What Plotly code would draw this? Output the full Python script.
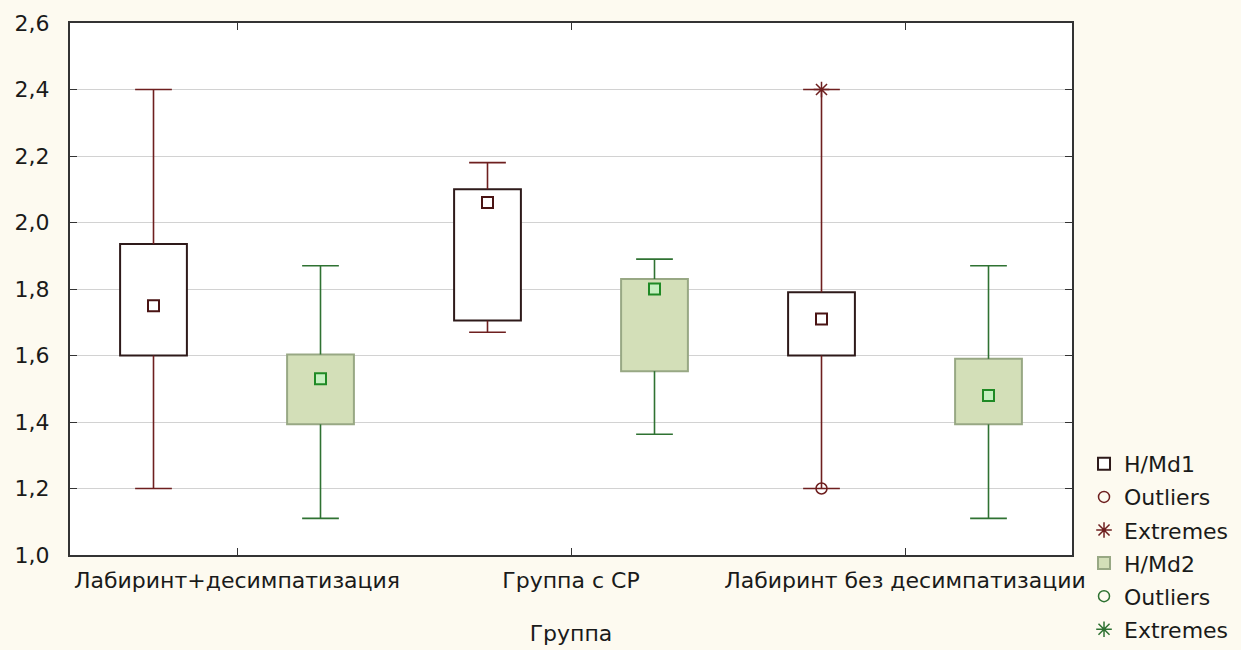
import plotly.graph_objects as go

# Groups and the two measured indices
groups = ["Лабиринт+десимпатизация", "Группа с СР", "Лабиринт без десимпатизации"]
series_names = ["H/Md1", "H/Md2"]

# Summary statistics per group (median, quartiles, non-outlier range)
md1_median = [1.75, 2.06, 1.71]
md1_q1 = [1.60, 1.705, 1.60]
md1_q3 = [1.935, 2.10, 1.79]
md1_low = [1.20, 1.67, 1.20]
md1_high = [2.40, 2.18, 2.40]

md2_median = [1.53, 1.80, 1.48]
md2_q1 = [1.393, 1.553, 1.393]
md2_q3 = [1.603, 1.83, 1.59]
md2_low = [1.11, 1.363, 1.11]
md2_high = [1.87, 1.89, 1.87]

# Individual outlier / extreme points of H/Md1 (group index, value)
md1_outlier_group = [2]
md1_outlier_value = [1.20]
md1_extreme_group = [2]
md1_extreme_value = [2.40]

FONT = "DejaVu Sans"
BG = "#fdfaf0"

styles = [
    dict(fill="#ffffff", border="#2e1a1a", whisker="#6e1f1f",
         marker_line="#4a1414", marker_fill="#ffffff", offset=-0.25),
    dict(fill="#d3dfb8", border="#98a884", whisker="#2f7232",
         marker_line="#1f8a25", marker_fill="#c6f0c0", offset=0.25),
]
stats = [
    (md1_median, md1_q1, md1_q3, md1_low, md1_high),
    (md2_median, md2_q1, md2_q3, md2_low, md2_high),
]

fig = go.Figure()
box_w = 0.2
cap_half = 0.055

for name, st, (med, q1, q3, lo, hi) in zip(series_names, styles, stats):
    xs = [i + st["offset"] for i in range(len(groups))]
    # whiskers with caps
    wx, wy = [], []
    for x, a, b, l, h in zip(xs, q1, q3, lo, hi):
        wx += [x, x, None, x, x, None, x - cap_half, x + cap_half, None,
               x - cap_half, x + cap_half, None]
        wy += [b, h, None, a, l, None, h, h, None, l, l, None]
    fig.add_trace(go.Scatter(
        x=wx, y=wy, mode="lines", showlegend=False, hoverinfo="skip",
        line=dict(color=st["whisker"], width=1.6),
    ))
    # interquartile boxes
    fig.add_trace(go.Bar(
        x=xs, base=q1, y=[b - a for a, b in zip(q1, q3)], width=box_w,
        name=name, legendgroup=name + "box",
        marker=dict(color=st["fill"], line=dict(color=st["border"], width=2)),
    ))
    # median markers
    fig.add_trace(go.Scatter(
        x=xs, y=med, mode="markers", showlegend=False,
        marker=dict(symbol="square", size=11, color=st["marker_fill"],
                    line=dict(color=st["marker_line"], width=2)),
    ))
    if name == "H/Md1":
        ox = [g + st["offset"] for g in md1_outlier_group]
        ex = [g + st["offset"] for g in md1_extreme_group]
        oy, ey = md1_outlier_value, md1_extreme_value
    else:
        ox, oy, ex, ey = [None], [None], [None], [None]
    fig.add_trace(go.Scatter(
        x=ox, y=oy, mode="markers", name="Outliers",
        legendgroup=name + "out",
        marker=dict(symbol="circle-open", size=11, color=st["whisker"],
                    line=dict(width=1.5)),
    ))
    fig.add_trace(go.Scatter(
        x=ex, y=ey, mode="markers", name="Extremes",
        legendgroup=name + "ext",
        marker=dict(symbol="asterisk-open", size=13, color=st["whisker"],
                    line=dict(width=1.5, color=st["whisker"])),
    ))

fig.update_layout(
    width=1241, height=650,
    margin=dict(l=70, r=169, t=23, b=95, autoexpand=False),
    paper_bgcolor=BG, plot_bgcolor="#ffffff",
    separators=", ",
    barmode="overlay",
    font=dict(family=FONT, size=22, color="#1a1a1a"),
    legend=dict(
        xref="container", yref="container",
        x=0.8735, xanchor="left", y=0.3185, yanchor="top",
        traceorder="grouped", tracegroupgap=1.5,
        bgcolor="rgba(0,0,0,0)", font=dict(size=22, family=FONT),
        itemwidth=30,
    ),
    xaxis=dict(
        range=[-0.5, 2.5], tickmode="array", tickvals=[0, 1, 2],
        ticktext=groups, ticks="inside", ticklen=7, tickcolor="#333333",
        showline=True, linewidth=2, linecolor="#333333", mirror="ticks",
        showgrid=False, zeroline=False, ticklabelstandoff=5,
        automargin=False,
        tickfont=dict(size=22, family=FONT),
        title=dict(text="Группа", font=dict(size=22, family=FONT), standoff=33),
    ),
    yaxis=dict(
        range=[1.0, 2.6], dtick=0.2, tick0=1.0, tickformat=".1f",
        ticks="inside", ticklen=7, tickcolor="#333333",
        showline=True, linewidth=2, linecolor="#333333", mirror="ticks",
        showgrid=True, gridcolor="#d2d2d2", gridwidth=1, zeroline=False,
        automargin=False,
        ticklabelstandoff=14, tickfont=dict(size=22, family=FONT),
    ),
)

fig.write_html("out.html")
